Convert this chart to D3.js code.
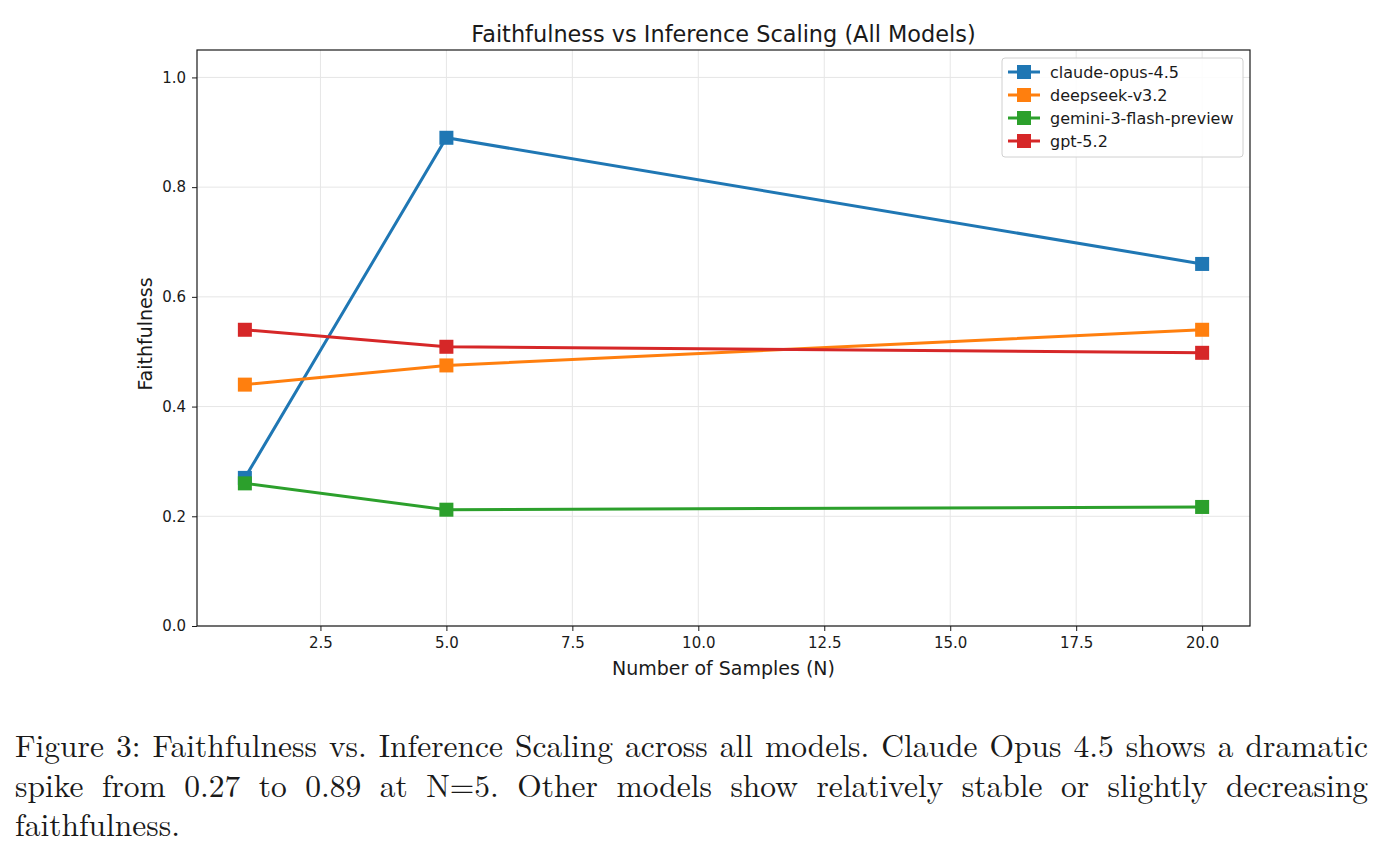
<!DOCTYPE html>
<html>
<head>
<meta charset="utf-8">
<script src="https://cdn.jsdelivr.net/npm/d3@7"></script>
<style>
  body { margin: 0; background: #fff; }
  svg text { font-family: "DejaVu Sans", sans-serif; fill: #1a1a1a; }
  .caption { font-family: "Latin Modern Roman", "DejaVu Serif", serif; }
</style>
</head>
<body>
<div id="chart"></div>
<script>
var samples = [1, 5, 20];
var models = ["claude-opus-4.5", "deepseek-v3.2", "gemini-3-flash-preview", "gpt-5.2"];
var colors = ["#1f77b4", "#ff7f0e", "#2ca02c", "#d62728"];
var claudeVals = [0.27, 0.89, 0.66];
var deepseekVals = [0.44, 0.475, 0.54];
var geminiVals = [0.26, 0.212, 0.217];
var gptVals = [0.54, 0.509, 0.498];
var xTicks = [2.5, 5.0, 7.5, 10.0, 12.5, 15.0, 17.5, 20.0];
var yTicks = [0.0, 0.2, 0.4, 0.6, 0.8, 1.0];
var captionLines = [
  "Figure 3: Faithfulness vs. Inference Scaling across all models. Claude Opus 4.5 shows a dramatic",
  "spike from 0.27 to 0.89 at N=5. Other models show relatively stable or slightly decreasing",
  "faithfulness."
];

var series = [claudeVals, deepseekVals, geminiVals, gptVals].map(function(vals, i) {
  return { name: models[i], color: colors[i], points: samples.map(function(n, j) { return [n, vals[j]]; }) };
});

var W = 1384, H = 859;
var margin = {top: 50, right: 134, bottom: 233, left: 197},
    width = W - margin.left - margin.right,
    height = H - margin.top - margin.bottom;

var svg = d3.select("#chart").append("svg")
    .attr("width", W)
    .attr("height", H);

var g = svg.append("g")
    .attr("transform", "translate(" + margin.left + "," + margin.top + ")");

var x = d3.scaleLinear().domain([0.05, 20.95]).range([0, width]);
var y = d3.scaleLinear().domain([0, 1.05]).range([height, 0]);

// grid
g.append("g").selectAll("line").data(xTicks).enter().append("line")
    .attr("x1", d => x(d)).attr("x2", d => x(d))
    .attr("y1", 0).attr("y2", height)
    .attr("stroke", "#e6e6e6").attr("stroke-width", 1);
g.append("g").selectAll("line").data(yTicks).enter().append("line")
    .attr("x1", 0).attr("x2", width)
    .attr("y1", d => y(d)).attr("y2", d => y(d))
    .attr("stroke", "#e6e6e6").attr("stroke-width", 1);

// axes
var xAxis = g.append("g")
    .attr("transform", "translate(0," + height + ")")
    .call(d3.axisBottom(x).tickValues(xTicks).tickFormat(d3.format(".1f")).tickSizeOuter(0).tickSize(5).tickPadding(6));
var yAxis = g.append("g")
    .call(d3.axisLeft(y).tickValues(yTicks).tickFormat(d3.format(".1f")).tickSizeOuter(0).tickSize(5).tickPadding(6));
[xAxis, yAxis].forEach(function(a) {
  a.select(".domain").remove();
  a.selectAll("text").style("font-size", "15px").style("font-family", "DejaVu Sans, sans-serif").attr("fill", "#1a1a1a");
  a.selectAll("line").attr("stroke", "#1a1a1a");
});

// frame
g.append("rect").attr("width", width).attr("height", height)
    .attr("fill", "none").attr("stroke", "#1a1a1a").attr("stroke-width", 1.2);

// lines and markers
var line = d3.line().x(d => x(d[0])).y(d => y(d[1]));
series.forEach(function(s) {
  g.append("path").datum(s.points)
      .attr("d", line).attr("fill", "none")
      .attr("stroke", s.color).attr("stroke-width", 3);
  g.append("g").selectAll("rect").data(s.points).enter().append("rect")
      .attr("x", d => x(d[0]) - 7).attr("y", d => y(d[1]) - 7)
      .attr("width", 14).attr("height", 14)
      .attr("fill", s.color);
});

// title and labels
svg.append("text").attr("x", margin.left + width / 2).attr("y", 42)
    .attr("text-anchor", "middle").style("font-size", "22.4px")
    .text("Faithfulness vs Inference Scaling (All Models)");
svg.append("text").attr("x", margin.left + width / 2).attr("y", 675)
    .attr("text-anchor", "middle").style("font-size", "19px")
    .text("Number of Samples (N)");
svg.append("text")
    .attr("transform", "translate(152," + (margin.top + height / 2 - 4) + ") rotate(-90)")
    .attr("text-anchor", "middle").style("font-size", "19px")
    .text("Faithfulness");

// legend
var lg = svg.append("g").attr("transform", "translate(1002,58)");
lg.append("rect").attr("width", 241).attr("height", 99).attr("rx", 3)
    .attr("fill", "#fff").attr("fill-opacity", 0.85)
    .attr("stroke", "#d0d0d0");
series.forEach(function(s, i) {
  var yy = 14 + i * 23;
  lg.append("line").attr("x1", 6).attr("x2", 38).attr("y1", yy).attr("y2", yy)
      .attr("stroke", s.color).attr("stroke-width", 3);
  lg.append("rect").attr("x", 15).attr("y", yy - 7).attr("width", 14).attr("height", 14)
      .attr("fill", s.color);
  lg.append("text").attr("x", 48).attr("y", yy + 5.5).style("font-size", "16px").text(s.name);
});

// caption, justified by word spacing
var capY = [757, 797, 836];
captionLines.forEach(function(t, i) {
  var tx = svg.append("text").attr("class", "caption")
      .attr("x", 15).attr("y", capY[i])
      .style("font-size", "31.5px")
      .text(t);
  if (i < 2) {
    var natural = tx.node().getComputedTextLength();
    var spaces = t.split(" ").length - 1;
    tx.style("word-spacing", ((1353 - natural) / spaces) + "px");
  }
});
</script>
</body>
</html>
